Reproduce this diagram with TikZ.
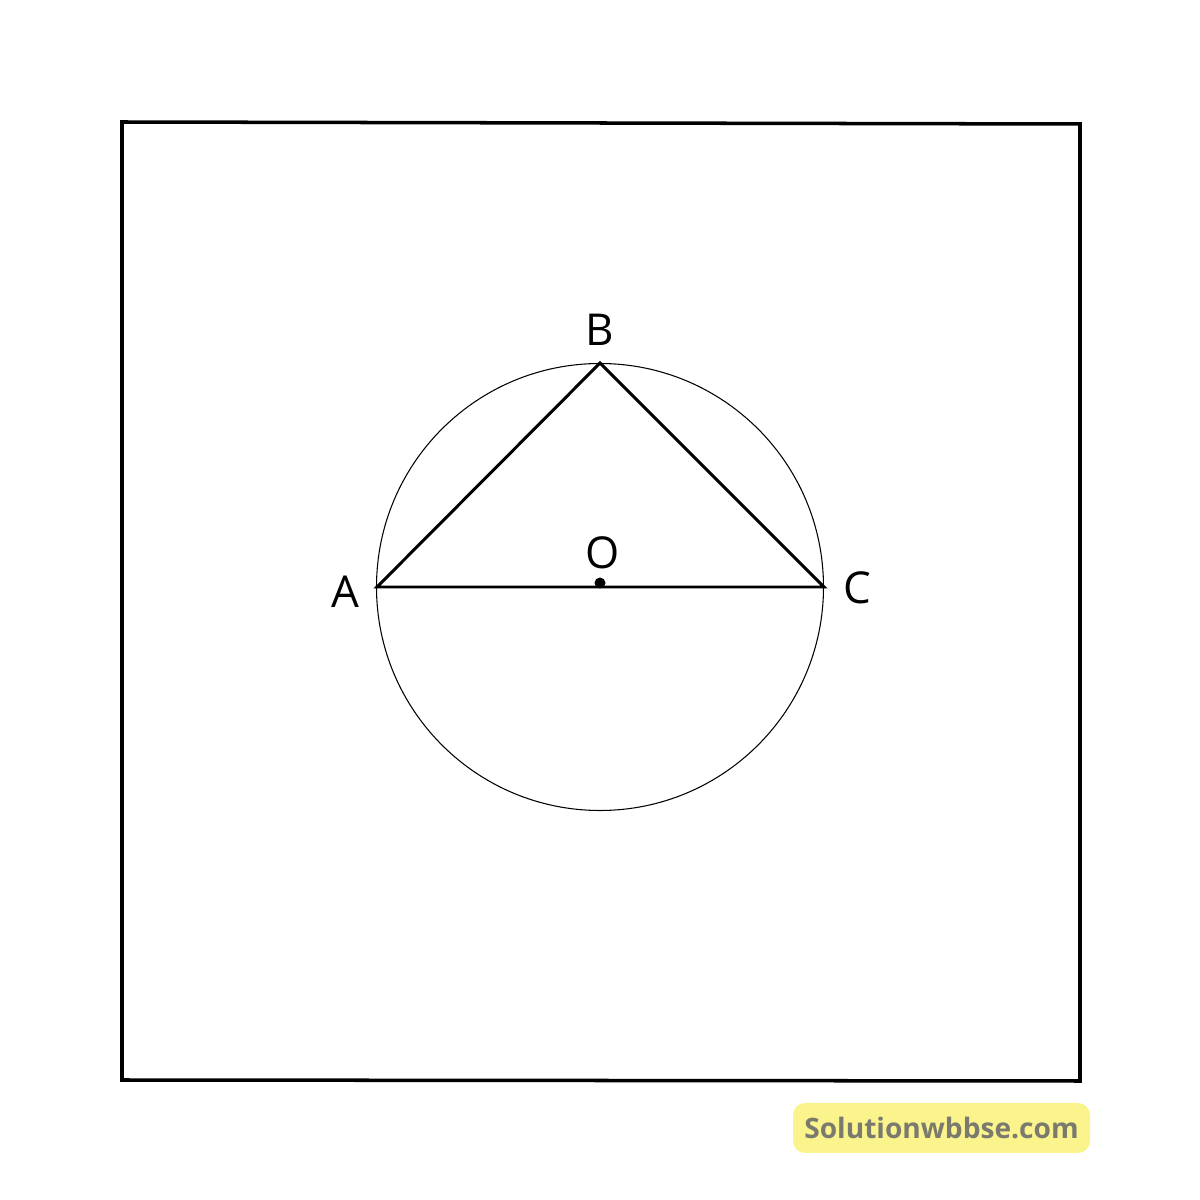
\documentclass[tikz,border=0pt]{standalone}
\usepackage{fontspec}
\setmainfont{Open Sans}
\usepackage{tikz}
\definecolor{markyellow}{HTML}{FBF38C}
\definecolor{markgray}{HTML}{7A7A6E}

\begin{document}
\begin{tikzpicture}[label/.style={inner sep=0pt, font=\fontsize{12.5}{15}\selectfont}]
            \tikzset{side/.style = {line width=0.85pt, line cap=round}}
            \tikzset{frame/.style = {line width=1pt, line join=miter}}

            \useasboundingbox (0,0) rectangle (12,12);
            \draw[frame] (1.22,10.78) -- (10.80,10.76) -- (10.80,1.19) -- (1.22,1.20) -- cycle;

            \coordinate (O) at (6.0,6.13);
            \coordinate (A) at (3.77,6.13);
            \coordinate (C) at (8.24,6.13);
            \coordinate (B) at (6.0,8.37);

            \draw[line width=0.3pt] (O) circle (2.235);
            \draw [side] (A) -- (B) -- (C) -- cycle;
            \fill (6.0,6.17) circle (0.055);

            \node[label] (labelB) at (6.0,8.70) {B};
            \node[label] (labelO) at (6.03,6.47) {O};
            \node[label] (labelA) at (3.45,6.08) {A};
            \node[label] (labelC) at (8.57,6.12) {C};

            \node[fill=markyellow, rounded corners=0.12cm, inner xsep=0.1cm, minimum width=2.97cm, minimum height=0.5cm,
                  text=markgray, font=\fontsize{8.0}{10}\selectfont\bfseries] (mark) at (9.415,0.72) {Solutionwbbse.com};

            \end{tikzpicture}
\end{document}
